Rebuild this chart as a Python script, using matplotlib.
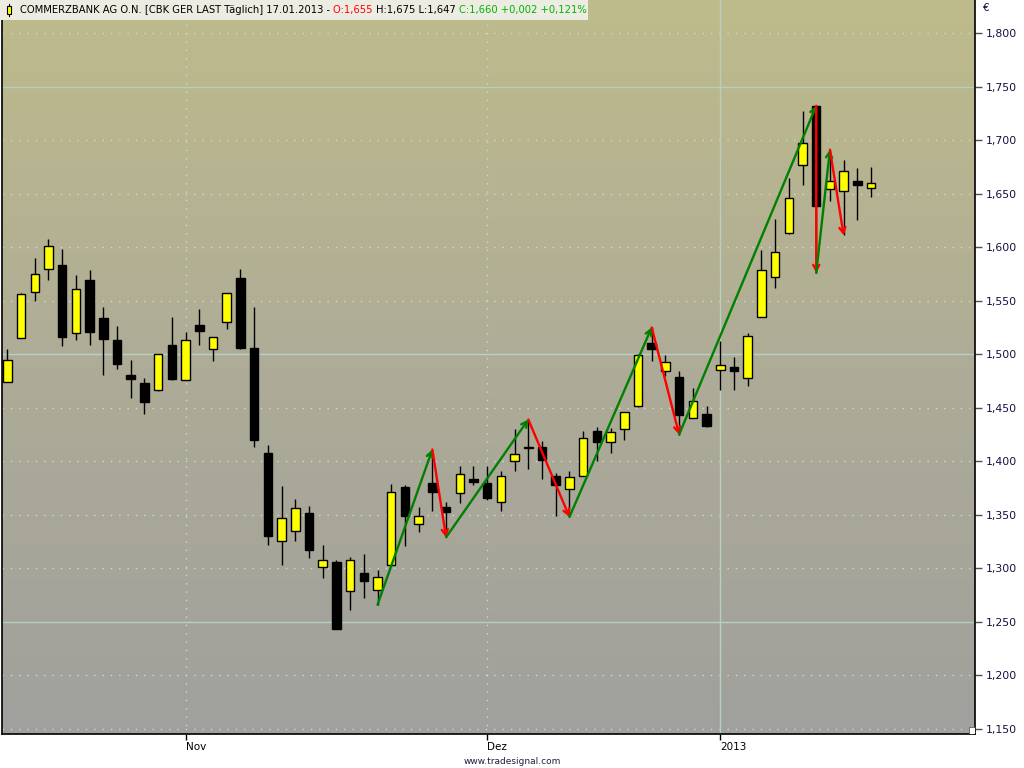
import numpy as np
import matplotlib
matplotlib.use("Agg")
import matplotlib.pyplot as plt
from matplotlib.patches import Rectangle
from matplotlib.colors import LinearSegmentedColormap

# Commerzbank daily candles, 15.10.2012 - 17.01.2013 (one entry per session)
opens = [1.474, 1.515, 1.558, 1.580, 1.583, 1.520, 1.569, 1.534, 1.513, 1.481,
         1.473, 1.467, 1.509, 1.476, 1.527, 1.505, 1.530, 1.571, 1.506, 1.408,
         1.326, 1.335, 1.352, 1.301, 1.306, 1.279, 1.296, 1.280, 1.303, 1.376,
         1.341, 1.380, 1.357, 1.370, 1.383, 1.380, 1.362, 1.400, 1.413, 1.413,
         1.386, 1.374, 1.386, 1.428, 1.418, 1.430, 1.452, 1.510, 1.484, 1.479,
         1.440, 1.444, 1.485, 1.488, 1.478, 1.535, 1.572, 1.613, 1.677, 1.732,
         1.654, 1.652, 1.662, 1.655]
highs = [1.505, 1.557, 1.590, 1.608, 1.598, 1.574, 1.579, 1.544, 1.526, 1.495,
         1.478, 1.500, 1.535, 1.521, 1.542, 1.516, 1.557, 1.580, 1.544, 1.415,
         1.377, 1.365, 1.358, 1.322, 1.308, 1.311, 1.313, 1.298, 1.379, 1.378,
         1.357, 1.411, 1.362, 1.396, 1.396, 1.396, 1.391, 1.430, 1.439, 1.419,
         1.389, 1.391, 1.428, 1.432, 1.431, 1.446, 1.500, 1.525, 1.499, 1.484,
         1.468, 1.452, 1.512, 1.497, 1.520, 1.597, 1.626, 1.665, 1.727, 1.732,
         1.691, 1.681, 1.674, 1.675]
lows = [1.474, 1.515, 1.550, 1.569, 1.508, 1.513, 1.509, 1.481, 1.486, 1.459,
        1.444, 1.466, 1.476, 1.476, 1.509, 1.494, 1.524, 1.505, 1.413, 1.322,
        1.303, 1.326, 1.310, 1.291, 1.243, 1.261, 1.272, 1.266, 1.302, 1.321,
        1.334, 1.354, 1.329, 1.361, 1.378, 1.364, 1.354, 1.391, 1.393, 1.383,
        1.349, 1.348, 1.386, 1.400, 1.408, 1.420, 1.451, 1.494, 1.480, 1.425,
        1.440, 1.432, 1.467, 1.467, 1.470, 1.535, 1.562, 1.612, 1.658, 1.576,
        1.643, 1.611, 1.625, 1.647]
closes = [1.495, 1.556, 1.575, 1.601, 1.516, 1.561, 1.521, 1.514, 1.491, 1.477,
          1.455, 1.500, 1.477, 1.513, 1.522, 1.516, 1.557, 1.506, 1.420, 1.330,
          1.347, 1.356, 1.317, 1.308, 1.243, 1.308, 1.288, 1.292, 1.371, 1.349,
          1.349, 1.371, 1.353, 1.388, 1.381, 1.366, 1.386, 1.407, 1.412, 1.401,
          1.378, 1.385, 1.422, 1.418, 1.427, 1.446, 1.499, 1.505, 1.493, 1.443,
          1.456, 1.433, 1.490, 1.484, 1.517, 1.579, 1.595, 1.646, 1.697, 1.638,
          1.662, 1.671, 1.658, 1.660]

# zigzag pivots: (session index, which extreme)
pivots = [(27, "L"), (31, "H"), (32, "L"), (38, "H"), (41, "L"), (47, "H"),
          (49, "L"), (59, "H"), (59, "L"), (60, "H"), (61, "L")]

# month starts on the time axis (session index, label, year boundary?)
month_ticks = [(13, "Nov", False), (35, "Dez", False), (52, "2013", True)]

price_ticks = [1.15, 1.20, 1.25, 1.30, 1.35, 1.40, 1.45, 1.50, 1.55,
               1.60, 1.65, 1.70, 1.75, 1.80]

BODY_W = 0.62

fig = plt.figure(figsize=(10.24, 7.68), dpi=100)
fig.patch.set_facecolor("white")
ax = fig.add_axes([2 / 1024, 34 / 768, 973 / 1024, 734 / 768])
x0, x1 = -0.39, 70.58
y0, y1 = 1.1453, 1.8308
ax.set_xlim(x0, x1)
ax.set_ylim(y0, y1)

# vertical khaki -> grey gradient
cmap = LinearSegmentedColormap.from_list("bg", ["#a0a09d", "#aeac97", "#bebb8b"])
grad = np.linspace(0, 1, 256).reshape(-1, 1)
ax.imshow(grad, extent=(x0, x1, y0, y1), origin="lower", aspect="auto",
          cmap=cmap, zorder=0, interpolation="bicubic")

# grid
for p in price_ticks:
    if round(p * 100) % 25 == 0:
        ax.axhline(p, color="#b4d0c4", lw=1.0, zorder=1)
    else:
        ax.axhline(p, color="#cfdccc", lw=1.0, ls=(0, (1, 5)), zorder=1)
for idx, lab, year in month_ticks:
    if year:
        ax.axvline(idx, color="#b8d0c0", lw=1.0, zorder=1)
    else:
        ax.axvline(idx, color="#cfdccc", lw=1.0, ls=(0, (1, 5)), zorder=1)

# candles
for i, (o, h, l, c) in enumerate(zip(opens, highs, lows, closes)):
    ax.vlines(i, l, h, color="black", lw=1.0, zorder=3)
    up = c >= o
    ax.add_patch(Rectangle((i - BODY_W / 2, min(o, c)), BODY_W, max(abs(c - o), 0.0012),
                           facecolor="#ffff00" if up else "black",
                           edgecolor="black", lw=1.0, zorder=4))

# zigzag arrows
pts = [(i, highs[i] if k == "H" else lows[i]) for i, k in pivots]
for (xa, ya), (xb, yb) in zip(pts[:-1], pts[1:]):
    col = "#008000" if yb > ya else "#ff0000"
    ax.annotate("", xy=(xb, yb), xytext=(xa, ya), zorder=5,
                arrowprops=dict(arrowstyle="->,head_length=0.4,head_width=0.22",
                                color=col, lw=1.7, shrinkA=0, shrinkB=0))

# axes / ticks
for s in ax.spines.values():
    s.set_color("black")
    s.set_linewidth(1.2)
ax.spines["top"].set_visible(False)
ax.yaxis.tick_right()
ax.set_yticks(price_ticks)
ax.set_yticklabels([f"{p:.3f}".replace(".", ",") for p in price_ticks])
ax.tick_params(axis="y", length=5, width=1, color="#505050", pad=3,
               labelsize=7.8, labelcolor="#101040")
ax.set_xticks([m[0] for m in month_ticks])
ax.set_xticklabels([m[1] for m in month_ticks], ha="left")
ax.tick_params(axis="x", length=4, width=1, color="black", pad=2, labelsize=7.5)
fig.text(983 / 1024, 1 - 8 / 768, "€", fontsize=7.5, color="#101040", va="center")

# resize handle in the corner
ax.add_patch(Rectangle((0.9935, 0.0), 0.0065, 0.0095, transform=ax.transAxes,
                       facecolor="white", edgecolor="#606060", lw=0.6, zorder=6))

# title strip with coloured quote
fig.patches.append(Rectangle((0, 1 - 20 / 768), 588 / 1024, 20 / 768,
                             transform=fig.transFigure, facecolor="#ecece2",
                             edgecolor="none", zorder=10))
fig.patches.append(Rectangle((7 / 1024, 1 - 14 / 768), 4 / 1024, 8 / 768,
                             transform=fig.transFigure, facecolor="#ffff00",
                             edgecolor="black", lw=0.8, zorder=11))
fig.lines.append(plt.Line2D([9 / 1024, 9 / 1024], [1 - 16 / 768, 1 - 4 / 768],
                            transform=fig.transFigure, color="black", lw=0.8, zorder=10.5))
segments = [("COMMERZBANK AG O.N. [CBK GER LAST Täglich] 17.01.2013 - ", "black"),
            ("O:1,655 ", "#ff0000"), ("H:1,675 L:1,647 ", "black"),
            ("C:1,660 +0,002 +0,121%", "#00b400")]
renderer = fig.canvas.get_renderer()
xpos = 20 / 1024
for txt, col in segments:
    t = fig.text(xpos, 1 - 10 / 768, txt, fontsize=7.2, color=col, va="center",
                 zorder=12)
    bb = t.get_window_extent(renderer=renderer)
    xpos = bb.x1 / 1024

fig.text(512 / 1024, 1 - 761 / 768, "www.tradesignal.com", fontsize=6.5,
         color="#202040", ha="center", va="center")

fig.savefig("out.png", dpi=100)
